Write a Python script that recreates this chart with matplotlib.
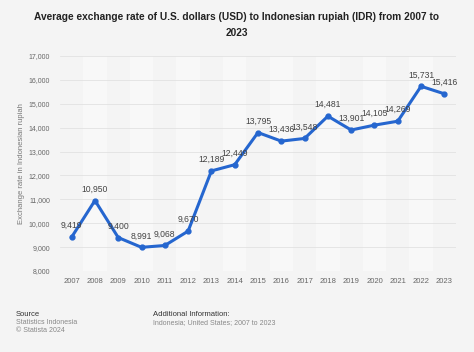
import matplotlib
matplotlib.use("Agg")
import matplotlib.pyplot as plt

plt.rcParams['font.family'] = ['Liberation Sans', 'DejaVu Sans']

years = [2007, 2008, 2009, 2010, 2011, 2012, 2013, 2014, 2015, 2016, 2017, 2018, 2019, 2020, 2021, 2022, 2023]
rates = [9419, 10950, 9400, 8991, 9068, 9670, 12189, 12449, 13795, 13436, 13548, 14481, 13901, 14105, 14269, 15731, 15416]
yticks = [8000, 9000, 10000, 11000, 12000, 13000, 14000, 15000, 16000, 17000]

bg = '#f4f4f4'
fig = plt.figure(figsize=(4.74, 3.52), dpi=100, facecolor=bg)
ax = fig.add_axes([0.1266, 0.2301, 0.8354, 0.6109])
ax.set_facecolor(bg)

for i, yr in enumerate(years):
    if i % 2 == 1:
        ax.axvspan(yr - 0.5, yr + 0.5, color='#f8f8f8', zorder=0, lw=0)

ax.set_xlim(years[0] - 0.5, years[-1] + 0.5)
ax.set_ylim(8000, 17000)
ax.set_yticks(yticks)
ax.set_yticklabels([f"{v:,}" for v in yticks])
ax.set_xticks(years)
ax.set_xticklabels([str(y) for y in years])
ax.grid(axis='y', color='#e2e2e2', lw=0.6, zorder=1)
ax.set_axisbelow(True)
for s in ax.spines.values():
    s.set_visible(False)
ax.tick_params(axis='both', length=0, colors='#666666')
ax.tick_params(axis='x', pad=5, labelsize=5.5)
ax.tick_params(axis='y', pad=7, labelsize=5)

ax.plot(years, rates, color='#2566cf', lw=2.2, marker='o', ms=3.5, zorder=3)
for x, y in zip(years, rates):
    ax.annotate(f"{y:,}", (x, y), xytext=(0, 5), textcoords='offset points',
                ha='center', va='bottom', fontsize=6.2, color='#444444', zorder=4)

ax.set_ylabel('Exchange rate in Indonesian rupiah', fontsize=5.5, color='#777777')
ax.yaxis.set_label_coords(-0.088, 0.5)

fig.text(0.5, 0.965, 'Average exchange rate of U.S. dollars (USD) to Indonesian rupiah (IDR) from 2007 to\n2023',
         ha='center', va='top', fontsize=7.3, fontweight='bold', color='#222222', linespacing=1.7)

fig.text(16/474, 1 - 315/352, 'Source', fontsize=5.5, color='#333333', va='center')
fig.text(16/474, 1 - 323/352, 'Statistics Indonesia', fontsize=5, color='#888888', va='center')
fig.text(16/474, 1 - 331/352, '© Statista 2024', fontsize=5, color='#888888', va='center')
fig.text(153/474, 1 - 315/352, 'Additional Information:', fontsize=5.5, color='#333333', va='center')
fig.text(153/474, 1 - 323/352, 'Indonesia; United States; 2007 to 2023', fontsize=5, color='#888888', va='center')

fig.savefig('out.png', dpi=100, facecolor=bg)
